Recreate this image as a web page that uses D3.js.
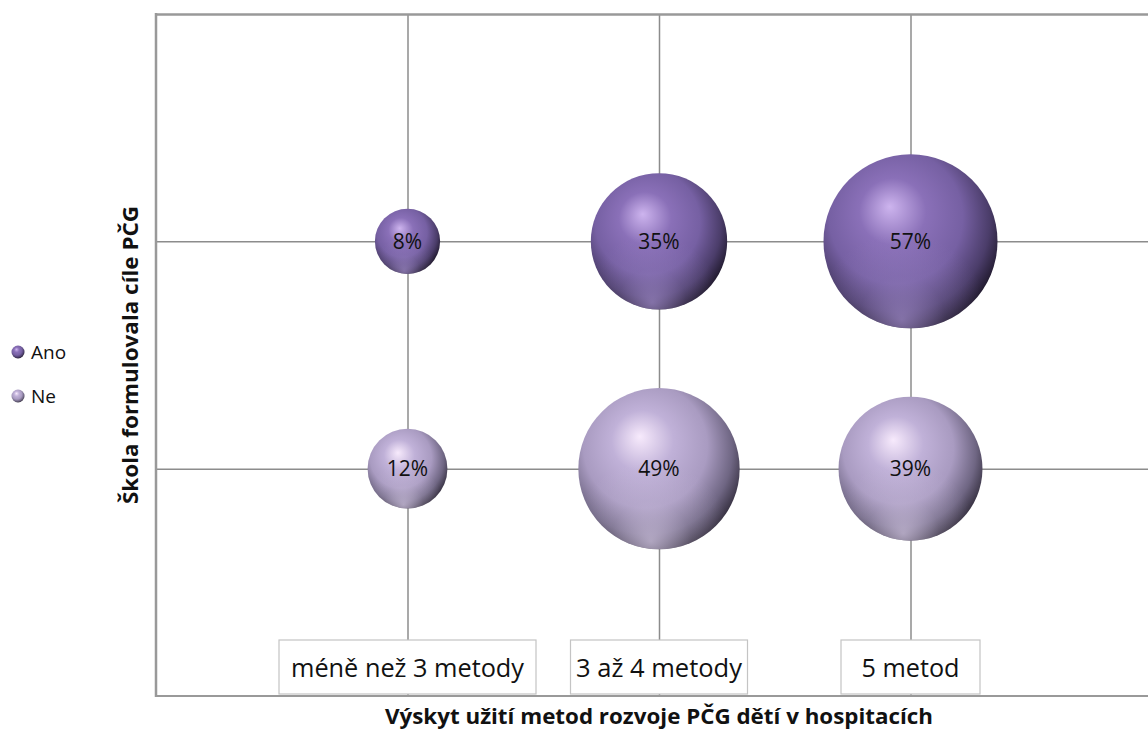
<!DOCTYPE html>
<html>
<head>
<meta charset="utf-8">
<script src="https://cdn.jsdelivr.net/npm/d3@7"></script>
<style>
  html, body { margin: 0; padding: 0; background: #fff; }
  svg { display: block; }
  text { font-family: "Open Sans", "DejaVu Sans", sans-serif; }
</style>
</head>
<body>
<svg id="chart" width="1148" height="729"></svg>
<script>
// ---- data ----
const categories = ["méně než 3 metody", "3 až 4 metody", "5 metod"];
const categoryPos = [1, 2, 3];
const seriesNames = ["Ano", "Ne"];
const seriesRow = [2, 1];
const anoValues = [8, 35, 57];
const neValues = [12, 49, 39];
const xTicks = [1, 2, 3, 4];
const yTicks = [1, 2, 3];
const xTitle = "Výskyt užití metod rozvoje PČG dětí v hospitacích";
const yTitle = "Škola formulovala cíle PČG";

// ---- layout ----
const W = 1148, H = 729;
const plot = { left: 156, top: 14, right: 1162, bottom: 696 };
const labelBoxWidths = [257, 177, 139];
const labelTextWidths = [233, 166, 98];

const svg = d3.select("#chart");
const x = d3.scaleLinear().domain([0, 4]).range([plot.left, plot.right]);
const y = d3.scaleLinear().domain([0, 3]).range([plot.bottom, plot.top]);
const r = d3.scaleSqrt().domain([0, 57]).range([0, 87]);

// gradients
const defs = svg.append("defs");
const palettes = {
  Ano: { hi: "#cdb4ee", mid: "#8a70b8", base: "#7660a3", dark: "#4b3d6a", edge: "#15101d", rim: "#a38ecc" },
  Ne:  { hi: "#f7eafc", mid: "#c0b1d8", base: "#a99bc1", dark: "#6f6683", edge: "#27222f", rim: "#d6cae6" }
};
Object.entries(palettes).forEach(([name, p]) => {
  const g = defs.append("radialGradient").attr("id", "g-" + name)
    .attr("cx", 0.44).attr("cy", 0.4).attr("r", 0.64)
    .attr("fx", 0.38).attr("fy", 0.3);
  [[0, p.hi], [0.3, p.mid], [0.6, p.base], [0.82, p.dark], [1, p.edge]]
    .forEach(([o, c]) => g.append("stop").attr("offset", o).attr("stop-color", c));
  const rim = defs.append("radialGradient").attr("id", "rim-" + name)
    .attr("cx", 0.45).attr("cy", 0.95).attr("r", 0.5);
  rim.append("stop").attr("offset", 0).attr("stop-color", p.rim).attr("stop-opacity", 0.7);
  rim.append("stop").attr("offset", 0.5).attr("stop-color", p.rim).attr("stop-opacity", 0.22);
  rim.append("stop").attr("offset", 1).attr("stop-color", p.rim).attr("stop-opacity", 0);
});

// gridlines via axes
const gridColor = "#8c8c8c";
const gx = svg.append("g").attr("transform", `translate(0,${plot.bottom})`)
  .call(d3.axisBottom(x).tickValues(xTicks).tickSize(-(plot.bottom - plot.top)).tickFormat(""));
const gy = svg.append("g").attr("transform", `translate(${plot.left},0)`)
  .call(d3.axisLeft(y).tickValues(yTicks).tickSize(-(W - plot.left)).tickFormat(""));
[gx, gy].forEach(g => {
  g.select(".domain").remove();
  g.selectAll(".tick line").attr("stroke", gridColor).attr("stroke-width", 1.5);
});
gy.selectAll(".tick").filter(d => d === 3).select("line").attr("stroke-width", 2.5).attr("stroke", "#999");

// plot border left
svg.append("line").attr("x1", plot.left).attr("x2", plot.left)
  .attr("y1", plot.top - 1).attr("y2", plot.bottom + 1)
  .attr("stroke", "#999").attr("stroke-width", 2.5);

// category label boxes
const boxG = svg.append("g");
categories.forEach((c, i) => {
  const cx = x(categoryPos[i]);
  const bw = labelBoxWidths[i];
  boxG.append("rect").attr("x", cx - bw / 2).attr("y", 640).attr("width", bw).attr("height", 54)
    .attr("fill", "#fff").attr("stroke", "#c4c4c4").attr("stroke-width", 1.2);
  boxG.append("text").attr("x", cx).attr("y", 677).attr("text-anchor", "middle")
    .attr("font-size", 25).attr("fill", "#111")
    .attr("textLength", labelTextWidths[i]).attr("lengthAdjust", "spacingAndGlyphs").text(c);
});

// bottom axis line
svg.append("line").attr("x1", plot.left - 1).attr("x2", W)
  .attr("y1", plot.bottom).attr("y2", plot.bottom)
  .attr("stroke", "#999").attr("stroke-width", 2);

// bubbles
const seriesData = [anoValues, neValues];
const bubbles = [];
seriesData.forEach((vals, s) => vals.forEach((v, i) => bubbles.push({
  series: seriesNames[s], row: seriesRow[s], cat: categoryPos[i], value: v
})));
bubbles.sort((a, b) => b.value - a.value);
const bg = svg.append("g");
const node = bg.selectAll("g.b").data(bubbles).join("g").attr("class", "b")
  .attr("transform", d => `translate(${x(d.cat)},${y(d.row)})`);
node.append("circle").attr("r", d => r(d.value)).attr("fill", d => `url(#g-${d.series})`);
node.append("circle").attr("r", d => r(d.value)).attr("fill", d => `url(#rim-${d.series})`);
node.append("text").attr("text-anchor", "middle").attr("dy", "0.36em")
  .attr("font-size", 21).attr("fill", "#111").text(d => d.value + "%");

// legend
const leg = svg.append("g");
seriesNames.forEach((s, i) => {
  const ly = 352 + i * 44;
  leg.append("circle").attr("cx", 18).attr("cy", ly).attr("r", 6.5).attr("fill", `url(#g-${s})`);
  leg.append("text").attr("x", 31).attr("y", ly).attr("dy", "0.36em")
    .attr("font-size", 19).attr("fill", "#111").text(s);
});

// axis titles
svg.append("text").attr("x", 659).attr("y", 724)
  .attr("text-anchor", "middle").attr("font-size", 21).attr("font-weight", "bold")
  .attr("fill", "#111").attr("textLength", 548).attr("lengthAdjust", "spacingAndGlyphs").text(xTitle);
svg.append("text").attr("transform", `translate(138,${(plot.top + plot.bottom) / 2}) rotate(-90)`)
  .attr("text-anchor", "middle").attr("font-size", 21).attr("font-weight", "bold")
  .attr("fill", "#111").attr("textLength", 298).attr("lengthAdjust", "spacingAndGlyphs").text(yTitle);
</script>
</body>
</html>
